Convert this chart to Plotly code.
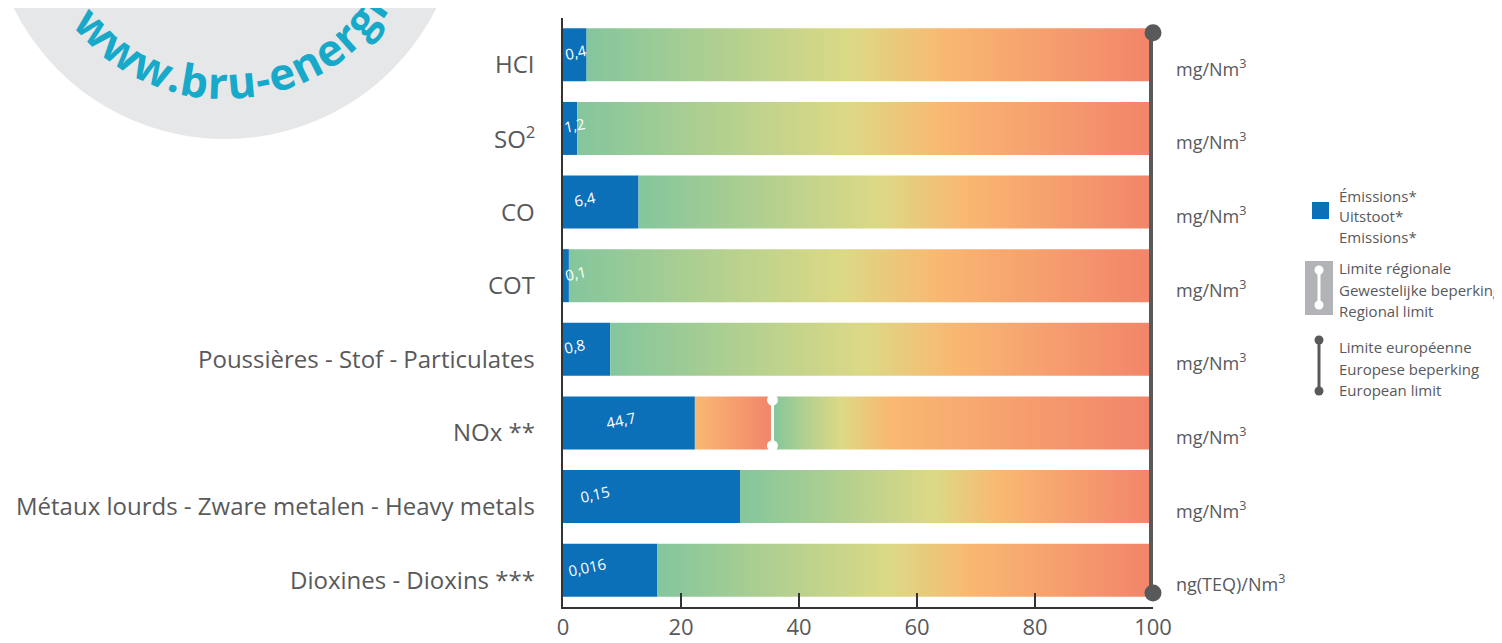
import math
import plotly.graph_objects as go

# ---------------- data ----------------
categories = [
    "HCI",
    "SO<sup>2</sup>",
    "CO",
    "COT",
    "Poussières - Stof - Particulates",
    "NOx **",
    "Métaux lourds - Zware metalen - Heavy metals",
    "Dioxines - Dioxins ***",
]
emission_labels = ["0,4", "1,2", "6,4", "0,1", "0,8", "44,7", "0,15", "0,016"]
emission_pct = [4.0, 2.4, 12.8, 1.0, 8.0, 22.35, 30.0, 16.0]   # % of European limit
regional_limit_pct = [None, None, None, None, None, 35.5, None, None]
european_limit_pct = 100.0
units = ["mg/Nm<sup>3</sup>"] * 7 + ["ng(TEQ)/Nm<sup>3</sup>"]
x_ticks = [0, 20, 40, 60, 80, 100]

legend_emissions = ["Émissions*", "Uitstoot*", "Emissions*"]
legend_regional = ["Limite régionale", "Gewestelijke beperking", "Regional limit"]
legend_european = ["Limite européenne", "Europese beperking", "European limit"]
logo_text = "www.bru-energi"

# ---------------- style / layout ----------------
W, H = 1502, 643
PAGE_OFF = 8                      # page body margin of the html page
L, R, T, B = 563, 1153, 18, 607   # target on-screen plot area
FONT = "Open Sans"
GREY_TXT = "#58595b"
BLUE = "#0b70b8"
DARK = "#58595b"
AXIS = "#333333"
BAR_HALF = 0.36

GREEN, LGREEN, YELLOW, ORANGE, RED = "#84c69d", "#b3d08f", "#dcd985", "#f9b872", "#f2846a"
grad_default = [[0, GREEN], [0.25, LGREEN], [0.47, YELLOW], [0.63, ORANGE], [1, RED]]
grad_after_regional = [[0, GREEN], [0.09, LGREEN], [0.18, YELLOW], [0.31, ORANGE], [1, RED]]
grad_before_regional = [[0, ORANGE], [1, RED]]

label_x = [2.2, 1.9, 3.7, 2.2, 2.0, 9.8, 5.4, 4.1]   # text placement inside blue bars


def px2x(px):
    return (px - L) / (R - L)


def py2y(py):
    return (B - py) / (B - T)


n = len(categories)
idx = list(range(n))

fig = go.Figure()

# gradient remainder of each bar
for i in idx:
    s = emission_pct[i]
    segments = []
    if regional_limit_pct[i] is not None:
        segments.append((s, regional_limit_pct[i], grad_before_regional))
        segments.append((regional_limit_pct[i], european_limit_pct, grad_after_regional))
    else:
        segments.append((s, european_limit_pct, grad_default))
    for a, b, cs in segments:
        fig.add_trace(go.Scatter(
            x=[a, b, b, a, a],
            y=[i - BAR_HALF, i - BAR_HALF, i + BAR_HALF, i + BAR_HALF, i - BAR_HALF],
            fill="toself", mode="lines", line=dict(width=0),
            fillgradient=dict(type="horizontal", colorscale=cs, start=a, stop=b),
            hoverinfo="skip", showlegend=False,
        ))

# emission bars
fig.add_trace(go.Bar(
    x=emission_pct, y=idx, orientation="h", width=BAR_HALF * 2,
    marker=dict(color=BLUE, line=dict(width=0)), showlegend=False, hoverinfo="skip",
))

# regional limit markers
for i in idx:
    if regional_limit_pct[i] is not None:
        fig.add_trace(go.Scatter(
            x=[regional_limit_pct[i]] * 2, y=[i - 0.31, i + 0.31],
            mode="lines+markers", line=dict(color="white", width=3),
            marker=dict(color="white", size=11), showlegend=False, hoverinfo="skip",
        ))

# european limit line
fig.add_trace(go.Scatter(
    x=[european_limit_pct] * 2, y=[-0.3, n - 1 + 0.31],
    mode="lines+markers", line=dict(color=DARK, width=8),
    marker=dict(color=DARK, size=17), cliponaxis=False,
    showlegend=False, hoverinfo="skip",
))

annotations = []
# category labels
for i, c in enumerate(categories):
    annotations.append(dict(
        x=px2x(537), xref="paper", y=i, yref="y", yshift=-9,
        text=c, showarrow=False, xanchor="right", yanchor="middle",
        font=dict(family=FONT, size=24, color=GREY_TXT),
    ))
# units
for i, u in enumerate(units):
    annotations.append(dict(
        x=px2x(1174), xref="paper", y=i, yref="y", yshift=-13,
        text=u, showarrow=False, xanchor="left", yanchor="middle",
        font=dict(family=FONT, size=18, color=GREY_TXT),
    ))
# value labels
for i, v in enumerate(emission_labels):
    annotations.append(dict(
        x=label_x[i], xref="x", y=i, yref="y", yshift=3,
        text=v, showarrow=False, textangle=-12,
        font=dict(family=FONT, size=15, color="white"),
    ))


# legend texts
def legend_block(lines, y_centers):
    for t, yc in zip(lines, y_centers):
        annotations.append(dict(
            x=px2x(1337), xref="paper", y=py2y(yc), yref="paper",
            text=t, showarrow=False, xanchor="left", yanchor="middle",
            font=dict(family=FONT, size=15, color=GREY_TXT),
        ))


legend_block(legend_emissions, [196, 216, 237])
legend_block(legend_regional, [268, 290, 311])
legend_block(legend_european, [347, 369, 390])

# curved logo text (characters laid along an arc)
LOGO_CX, LOGO_CY, LOGO_R = 225, -97, 179
LOGO_FS = 44
advance_em = {"w": 0.80, ".": 0.28, "b": 0.62, "r": 0.43, "u": 0.62, "-": 0.33,
              "e": 0.57, "n": 0.62, "g": 0.56, "i": 0.28}
theta = -46.0
prev = None
for ch in logo_text:
    if prev is not None:
        step = (advance_em[prev] + advance_em[ch]) / 2 * LOGO_FS / LOGO_R
        theta += math.degrees(step)
    prev = ch
    th = math.radians(theta)
    px = LOGO_CX + LOGO_R * math.sin(th)
    py = LOGO_CY + LOGO_R * math.cos(th)
    annotations.append(dict(
        x=px2x(px), xref="paper", y=py2y(py), yref="paper",
        text=ch, showarrow=False, textangle=-theta,
        xanchor="center", yanchor="middle",
        font=dict(family=FONT, size=LOGO_FS, color="#17a9c9", weight="bold"),
    ))

shapes = []
# logo disc
CR = 236
shapes.append(dict(
    type="circle", xref="paper", yref="paper", layer="below",
    x0=px2x(LOGO_CX - CR), x1=px2x(LOGO_CX + CR),
    y0=py2y(LOGO_CY + CR), y1=py2y(LOGO_CY - CR),
    fillcolor="#e6e7e8", line=dict(width=0),
))


def circ(cx, cy, r, color):
    return dict(type="circle", xref="paper", yref="paper",
                x0=px2x(cx - r), x1=px2x(cx + r), y0=py2y(cy + r), y1=py2y(cy - r),
                fillcolor=color, line=dict(width=0))


# legend icons
shapes.append(dict(type="rect", xref="paper", yref="paper",
                   x0=px2x(1312), x1=px2x(1329), y0=py2y(219), y1=py2y(202),
                   fillcolor=BLUE, line=dict(width=0)))
shapes.append(dict(type="rect", xref="paper", yref="paper",
                   x0=px2x(1305), x1=px2x(1333), y0=py2y(315), y1=py2y(261),
                   fillcolor="#b1b3b6", line=dict(width=0)))
shapes.append(dict(type="line", xref="paper", yref="paper",
                   x0=px2x(1319), x1=px2x(1319), y0=py2y(305), y1=py2y(270),
                   line=dict(color="white", width=3)))
shapes.append(circ(1319, 270, 4.5, "white"))
shapes.append(circ(1319, 305, 4.5, "white"))
shapes.append(dict(type="line", xref="paper", yref="paper",
                   x0=px2x(1319), x1=px2x(1319), y0=py2y(391), y1=py2y(340),
                   line=dict(color=DARK, width=3)))
shapes.append(circ(1319, 340, 4.5, DARK))
shapes.append(circ(1319, 391, 4.5, DARK))

fig.update_layout(
    width=W, height=H,
    margin=dict(l=L - PAGE_OFF, r=W - (R - PAGE_OFF), t=T - PAGE_OFF,
                b=H - (B - PAGE_OFF), pad=0),
    paper_bgcolor="white", plot_bgcolor="white",
    showlegend=False,
    annotations=annotations, shapes=shapes,
    xaxis=dict(
        range=[0, 100], tickvals=x_ticks, ticktext=[str(t) for t in x_ticks],
        ticks="inside", ticklen=14, tickwidth=2, tickcolor=AXIS,
        showline=True, linecolor=AXIS, linewidth=2,
        showgrid=False, zeroline=False,
        tickfont=dict(family=FONT, size=22, color=GREY_TXT),
    ),
    yaxis=dict(
        range=[n - 0.5, -0.5], showticklabels=False, ticks="",
        showline=True, linecolor=AXIS, linewidth=2,
        showgrid=False, zeroline=False,
    ),
)

fig.write_html("out.html")
